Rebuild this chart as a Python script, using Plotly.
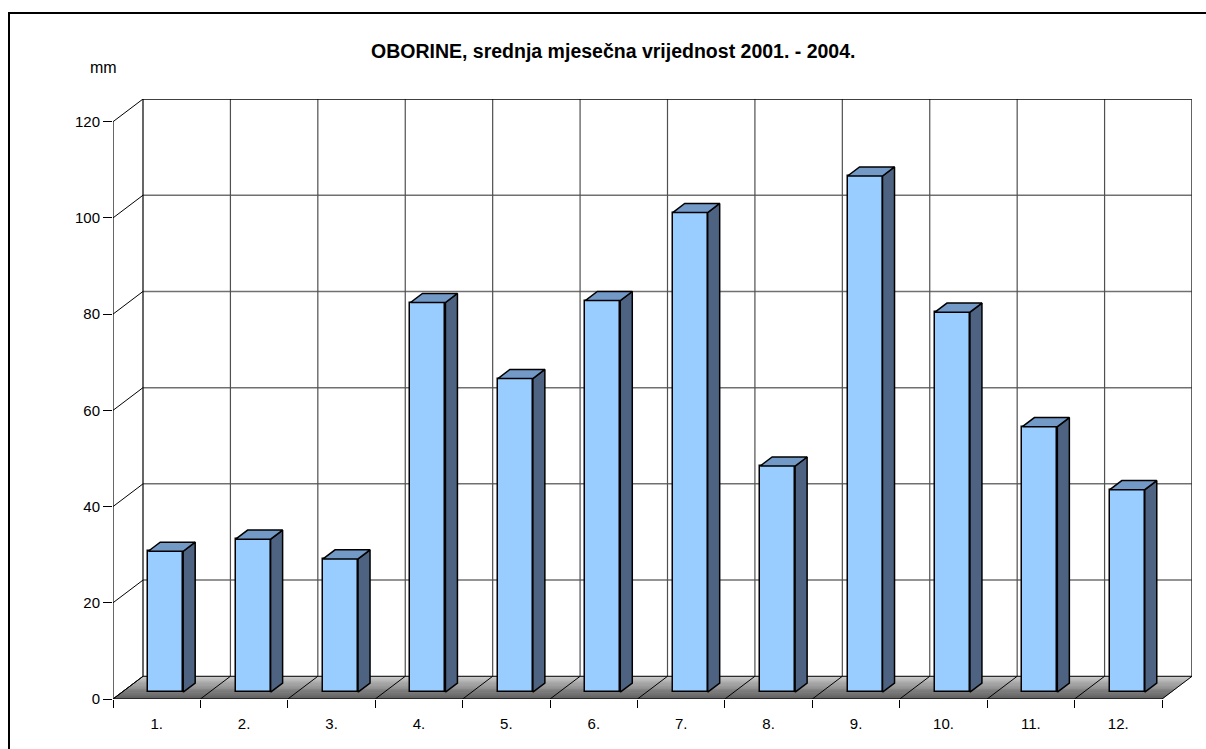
import plotly.graph_objects as go

# ---- data ----
months = ["1.", "2.", "3.", "4.", "5.", "6.", "7.", "8.", "9.", "10.", "11.", "12."]
precip_mm = [29.3, 31.8, 27.7, 81.0, 65.2, 81.4, 99.7, 47.0, 107.3, 79.0, 55.2, 42.1]
y_ticks = [0, 20, 40, 60, 80, 100, 120]

title_text = "OBORINE, srednja mjesečna vrijednost 2001. - 2004."
unit_text = "mm"

# ---- 3D projection parameters (category units / value units per unit depth) ----
DX = 0.3432
DY = 4.72
BAR_W = 0.4
D0, D1 = 0.3, 0.7  # bar depth extent
n = len(months)
YMAX = y_ticks[-1]

FRONT = "#99CCFF"
SIDE = "#4D6381"
TOP = "#7399C6"
FONT = "Arial, Liberation Sans, sans-serif"

fig = go.Figure()
shapes = []

def poly(pts):
    return "M " + " L ".join(f"{x},{y}" for x, y in pts) + " Z"

# floor with gradient strips (back light -> front dark)
nstrip = 20
c_back, c_front = 205, 85
for s in range(nstrip):
    da = 1 - s / nstrip
    db = 1 - (s + 1) / nstrip
    t = (s + 0.5) / nstrip
    c = int(c_back + (c_front - c_back) * t)
    col = f"rgb({c},{c},{c})"
    shapes.append(dict(type="path", xref="x", yref="y", layer="below",
                       path=poly([(da * DX, da * DY), (n + da * DX, da * DY),
                                  (n + db * DX, db * DY), (db * DX, db * DY)]),
                       fillcolor=col, line=dict(width=0.6, color=col)))

def seg(x0, y0, x1, y1, color="#000000", width=1):
    shapes.append(dict(type="line", xref="x", yref="y", layer="below",
                       x0=x0, y0=y0, x1=x1, y1=y1,
                       line=dict(color=color, width=width)))

# back wall horizontal gridlines
for v in y_ticks[1:-1]:
    seg(DX, v + DY, n + DX, v + DY, "#707070", 1.5)
# back wall vertical gridlines
for k in range(1, n):
    seg(k + DX, DY, k + DX, YMAX + DY, "#505050", 1.2)
# back wall frame
seg(DX, YMAX + DY, n + DX, YMAX + DY, "#000000", 1.5)
seg(DX, DY, DX, YMAX + DY, "#000000", 1.2)
seg(n + DX, DY, n + DX, YMAX + DY, "#303030", 1.5)
# left wall diagonals
for v in y_ticks:
    seg(0, v, DX, v + DY, "#000000", 1)
# front vertical axis
seg(0, 0, 0, YMAX, "#000000", 1.2)
# floor lines
for k in range(0, n + 1):
    seg(k, 0, k + DX, DY, "#000000", 1)
seg(DX, DY, n + DX, DY, "#000000", 1)
seg(0, 0, n, 0, "#000000", 1.2)

# bars: front faces
xc = [i + 0.5 + D0 * DX for i in range(n)]
base = D0 * DY
fig.add_trace(go.Bar(x=xc, y=precip_mm, base=base, width=BAR_W,
                     marker=dict(color=FRONT, line=dict(color="#000000", width=1.5)),
                     showlegend=False, hoverinfo="skip"))

dd_x = (D1 - D0) * DX
dd_y = (D1 - D0) * DY
for i, v in enumerate(precip_mm):
    xl = xc[i] - BAR_W / 2
    xr = xc[i] + BAR_W / 2
    top = base + v
    # side face
    fig.add_trace(go.Scatter(
        x=[xr, xr + dd_x, xr + dd_x, xr, xr],
        y=[base, base + dd_y, top + dd_y, top, base],
        mode="lines", fill="toself", fillcolor=SIDE,
        line=dict(color="#000000", width=1.5), showlegend=False, hoverinfo="skip"))
    # top face
    fig.add_trace(go.Scatter(
        x=[xl, xr, xr + dd_x, xl + dd_x, xl],
        y=[top, top, top + dd_y, top + dd_y, top],
        mode="lines", fill="toself", fillcolor=TOP,
        line=dict(color="#000000", width=1.5), showlegend=False, hoverinfo="skip"))

# outer border (paper coords relative to plot area)
L, R, T, B = 113, 14, 99, 50
W, H = 1206, 749
pw, ph = W - L - R, H - T - B
def px(xp):
    return (xp - L) / pw
def py(yp):
    return (H - B - yp) / ph
shapes.append(dict(type="rect", xref="paper", yref="paper", layer="above",
                   x0=px(9), x1=px(1215), y0=py(760), y1=py(13),
                   line=dict(color="#000000", width=2), fillcolor="rgba(0,0,0,0)"))

fig.update_layout(
    width=W, height=H,
    margin=dict(l=L, r=R, t=T, b=B, pad=0),
    paper_bgcolor="white", plot_bgcolor="white",
    font=dict(family=FONT, color="#000000", size=15),
    shapes=shapes,
    bargap=0,
    xaxis=dict(range=[0, n + DX], showgrid=False, zeroline=False, showline=False,
               tickmode="array", tickvals=[i + 0.5 for i in range(n)], ticktext=months,
               ticks="", ticklabelstandoff=14, tickfont=dict(size=15),
               minor=dict(tickmode="array", tickvals=list(range(n + 1)),
                          ticks="outside", ticklen=8, tickcolor="#000000", tickwidth=1.2),
               fixedrange=True),
    yaxis=dict(range=[0, YMAX + DY], showgrid=False, zeroline=False, showline=False,
               tickmode="array", tickvals=y_ticks, ticks="outside", ticklen=9,
               tickcolor="#000000", tickwidth=1.2, tickfont=dict(size=15),
               fixedrange=True),
    annotations=[
        dict(text=f"<b>{title_text}</b>", xref="paper", yref="paper",
             x=px(613), y=py(51), xanchor="center", yanchor="middle",
             showarrow=False, font=dict(size=19.5, family=FONT)),
        dict(text=unit_text, xref="paper", yref="paper",
             x=px(103), y=py(68), xanchor="center", yanchor="middle",
             showarrow=False, font=dict(size=16, family=FONT)),
    ],
)

fig.write_html("out.html", config={"displayModeBar": False},
               post_script="document.body.style.margin='0';")
